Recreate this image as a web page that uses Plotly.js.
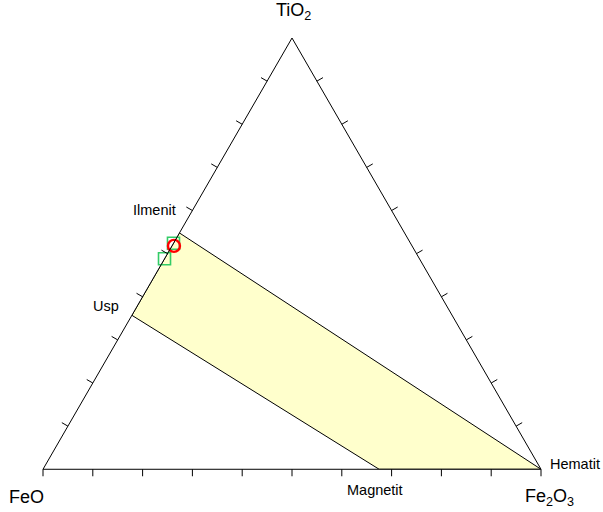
<!DOCTYPE html>
<html>
<head>
<meta charset="utf-8">
<script src="https://cdn.plot.ly/plotly-3.0.1.min.js"></script>
<style>html,body{margin:0;padding:0;background:#fff;}#chart{width:603px;height:512px;}</style>
</head>
<body>
<div id="chart"></div>
<script>
// Corner (component) labels
var cornerLabels = ['TiO<sub>2</sub>', 'FeO', 'Fe<sub>2</sub>O<sub>3</sub>'];

// Field polygon (Ilmenit -> Hematit -> Magnetit -> Usp), fractions of TiO2 (a), FeO (b), Fe2O3 (c)
var fieldNames = ['Ilmenit', 'Hematit', 'Magnetit', 'Usp'];
var fieldA = [0.548, 0.0, 0.0, 0.357];
var fieldB = [0.452, 0.0, 0.325, 0.643];
var fieldC = [0.0, 1.0, 0.675, 0.0];

// Sample points
var squareA = [0.524, 0.488];
var squareB = [0.476, 0.512];
var squareC = [0.0, 0.0];

var circleA = [0.518];
var circleB = [0.478];
var circleC = [0.004];

// Tick values along each edge
var bottomTicks = [0, 0.1, 0.2, 0.3, 0.4, 0.5, 0.6, 0.7, 0.8, 0.9, 1.0];
var sideTicks = [0.1, 0.2, 0.3, 0.4, 0.5, 0.6, 0.7, 0.8, 0.9];

// ---- layout geometry (pixels) ----
var W = 603, HT = 512;
var X0 = 43, SIDE = 498;                 // left corner x, side length
var TRI_H = SIDE * Math.sqrt(3) / 2;      // triangle height
var Y0 = 38;                              // apex y
var TICKLEN = 7;
var M = 0.02;                             // extra room (ternary units) for the tick overlay
function px(x) { return x / W; }
function py(y) { return (HT - y) / HT; }

// Main ternary domain
var mainDomain = {x: [px(X0), px(X0 + SIDE)], y: [py(Y0 + TRI_H), py(Y0)]};
// Overlay ternary (sum 1+3M, every component shifted by M): concentric, scaled by (1+3M)
var cx = X0 + SIDE / 2, cy = Y0 + TRI_H * 2 / 3;
var K = 1 + 3 * M;
var ovDomain = {
  x: [px(cx - SIDE * K / 2), px(cx + SIDE * K / 2)],
  y: [py(cy + TRI_H * K / 3), py(cy - TRI_H * K * 2 / 3)]
};

var half = TICKLEN / TRI_H / 2; // half tick length in ternary units
var bA = [], bB = [], bC = [];
bottomTicks.forEach(function (t) { bA.push(M - half); bB.push(M + 1 - t + half / 2); bC.push(M + t + half / 2); });
var lA = [], lB = [], lC = [];
sideTicks.forEach(function (t) { lA.push(M + t + half / 2); lB.push(M + 1 - t + half / 2); lC.push(M - half); });
var rA = [], rB = [], rC = [];
sideTicks.forEach(function (t) { rA.push(M + t + half / 2); rB.push(M - half); rC.push(M + 1 - t + half / 2); });

function tickTrace(A, B, C, angle) {
  return {
    type: 'scatterternary', subplot: 'ternary2', mode: 'markers', a: A, b: B, c: C,
    marker: {symbol: 'line-ew-open', size: TICKLEN / 1.4, angle: angle, color: '#000',
             line: {width: 1, color: '#000'}},
    cliponaxis: false, hoverinfo: 'skip'
  };
}

var closeA = fieldA.concat([fieldA[0]]);
var closeB = fieldB.concat([fieldB[0]]);
var closeC = fieldC.concat([fieldC[0]]);

var traces = [
  {
    type: 'scatterternary', mode: 'lines',
    a: closeA, b: closeB, c: closeC,
    fill: 'toself', fillcolor: '#ffffcc',
    line: {color: '#000000', width: 1},
    hoverinfo: 'skip'
  },
  {
    type: 'scatterternary', mode: 'markers',
    a: squareA, b: squareB, c: squareC,
    marker: {symbol: 'square-open', size: 12, color: '#33cc66', line: {width: 1.6, color: '#33cc66'}},
    cliponaxis: false
  },
  {
    type: 'scatterternary', mode: 'markers',
    a: circleA, b: circleB, c: circleC,
    marker: {symbol: 'circle-open', size: 12, color: '#ff0000', line: {width: 2.4, color: '#ff0000'}},
    cliponaxis: false
  },
  tickTrace(bA, bB, bC, 90),
  tickTrace(lA, lB, lC, 30),
  tickTrace(rA, rB, rC, -30)
];

function ax(show) {
  return {
    min: 0, ticks: '', showticklabels: false, showgrid: false,
    showline: show, linecolor: show ? '#000' : 'rgba(0,0,0,0)', linewidth: 1, title: {text: ''}
  };
}

var labelFont = {family: 'Liberation Sans, Arial, sans-serif', size: 14.5, color: '#000'};
var cornerFont = {family: 'Liberation Sans, Arial, sans-serif', size: 18, color: '#000'};
function note(x, y, text, font, xanchor) {
  return {xref: 'paper', yref: 'paper', x: px(x), y: py(y), text: text, showarrow: false, font: font,
          xanchor: xanchor || 'center', yanchor: 'middle'};
}
var layout = {
  width: W, height: HT,
  margin: {l: 0, r: 0, t: 0, b: 0},
  paper_bgcolor: '#fff',
  font: {family: 'Liberation Sans, Arial, sans-serif', color: '#000'},
  showlegend: false,
  ternary: {
    sum: 1, domain: mainDomain, bgcolor: '#fff',
    aaxis: ax(true), baxis: ax(true), caxis: ax(true)
  },
  ternary2: {
    sum: 1 + 3 * M, domain: ovDomain, bgcolor: 'rgba(0,0,0,0)',
    aaxis: ax(false), baxis: ax(false), caxis: ax(false)
  },
  annotations: [
    note(293.5, 11.3, cornerLabels[0], cornerFont),
    note(26.1, 497.4, cornerLabels[1], cornerFont),
    note(549.0, 497.4, cornerLabels[2], cornerFont),
    note(154.1, 209.5, fieldNames[0], labelFont),
    note(547.5, 463.8, fieldNames[1], labelFont, 'left'),
    note(375.2, 490.1, fieldNames[2], labelFont),
    note(106.2, 306.1, fieldNames[3], labelFont)
  ]
};

Plotly.newPlot('chart', traces, layout, {staticPlot: true, displayModeBar: false});
</script>
</body>
</html>
